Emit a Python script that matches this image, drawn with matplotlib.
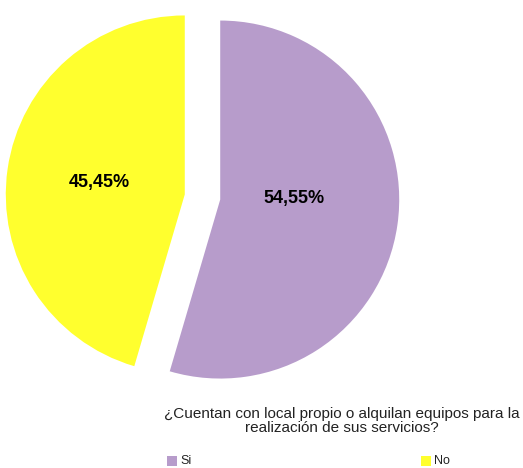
import matplotlib.pyplot as plt
from matplotlib.patches import Rectangle

# data
categories = ["Si", "No"]
values = [54.55, 45.45]
labels = ["54,55%", "45,45%"]
colors = ["#B79CCB", "#FFFF2E"]
title = "¿Cuentan con local propio o alquilan equipos para la\nrealización de sus servicios?"

plt.rcParams['font.family'] = ['Liberation Sans', 'DejaVu Sans']

fig = plt.figure(figsize=(5.23, 4.68), dpi=100)
ax = fig.add_axes([0, 0, 1, 1])

# pie drawn in pixel space (y up); explode is in data units here
radius = 179
wedges, texts = ax.pie(values, colors=colors, startangle=90, counterclock=False,
                       center=(202.5, 271), radius=radius,
                       explode=[0.1 * radius, 0.1 * radius], frame=True)
ax.set_xlim(0, 523)
ax.set_ylim(0, 468)
ax.set_aspect('equal')
ax.axis('off')

ax.text(293.5, 468 - 199, labels[0], ha='center', va='center',
        fontsize=13, fontweight='bold')
ax.text(99.5, 468 - 182, labels[1], ha='center', va='center',
        fontsize=13, fontweight='bold')

# title below the pie
ax.text(342, 468 - 421, title, ha='center', va='center', fontsize=11,
        linespacing=0.95, color='#222222')

# legend
for x, c, name in [(167, colors[0], categories[0]), (421, colors[1], categories[1])]:
    ax.add_patch(Rectangle((x, 468 - 466), 10, 10, facecolor=c, edgecolor='none'))
    ax.text(x + 13, 468 - 461, name, ha='left', va='center', fontsize=9,
            color='#222222')

fig.savefig("out.png", dpi=100)
